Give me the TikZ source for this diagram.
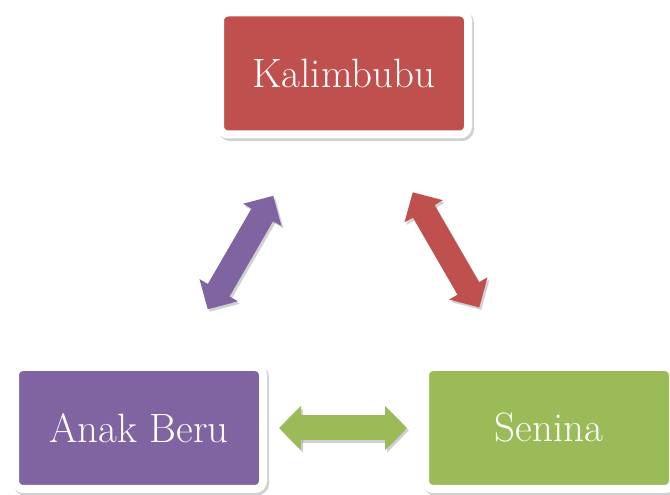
\documentclass[tikz,border=0pt]{standalone}
\usetikzlibrary{arrows.meta,shadows,calc}
\definecolor{kred}{HTML}{C0504D}
\definecolor{kpurple}{HTML}{8064A2}
\definecolor{kgreen}{HTML}{9BBB59}
\tikzset{
  box/.style={draw=white, line width=8pt, rounded corners=8pt,
    minimum width=248pt, minimum height=122pt, text=white,
    font=\fontsize{41}{48}\selectfont,
    drop shadow={shadow xshift=2pt, shadow yshift=-2.5pt, opacity=0.3, fill=black!60, draw=black!60, line width=8pt}},
  dbl/.style={line width=25pt, {Triangle[length=22pt,width=43pt]}-{Triangle[length=22pt,width=43pt]}},
  dblshadow/.style={dbl, draw=black, opacity=0.18, transform canvas={xshift=2pt,yshift=-2.5pt}}
}
\begin{document}
\begin{tikzpicture}[x=1pt,y=1pt]
\useasboundingbox (0,0) rectangle (670,495);
\node[box, fill=kred] (kal) at (344,421.5) {Kalimbubu};
\node[box, fill=kpurple] (anak) at (139,67) {Anak Beru};
\node[box, fill=kgreen] (sen) at (549,67) {Senina};
\coordinate (pA) at ($(anak.center)!0.335!(kal.center)$);
\coordinate (pB) at ($(anak.center)!0.655!(kal.center)$);
\coordinate (rA) at ($(kal.center)!0.335!(sen.center)$);
\coordinate (rB) at ($(kal.center)!0.66!(sen.center)$);
\draw[dblshadow] (pA) -- (pB);
\draw[dblshadow] (rA) -- (rB);
\draw[dblshadow, shorten <=12pt, shorten >=14pt] (anak.east) -- (sen.west);
\draw[dbl, draw=kpurple] (pA) -- (pB);
\draw[dbl, draw=kred] (rA) -- (rB);
\draw[dbl, draw=kgreen, shorten <=12pt, shorten >=14pt] (anak.east) -- (sen.west);
\end{tikzpicture}
\end{document}
